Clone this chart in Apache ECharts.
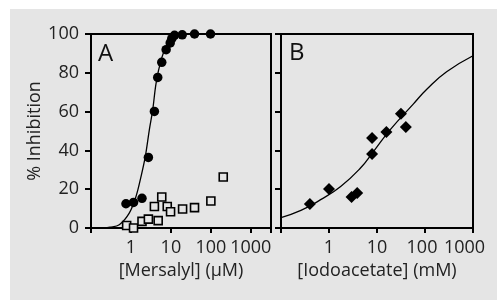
<!DOCTYPE html>
<html>
<head>
<meta charset="utf-8">
<script src="https://cdn.jsdelivr.net/npm/echarts@6/dist/echarts.min.js"></script>
<style>
  html, body { margin: 0; padding: 0; background: #fff; }
  #bg { position: absolute; left: 10px; top: 9px; width: 487px; height: 291px; background: #e5e5e5; }
  #main { position: absolute; left: 0; top: 0; width: 497px; height: 300px; }
</style>
</head>
<body>
<div id="bg"></div>
<div id="main"></div>
<script>
// panel A: mersalyl (uM)
const mersalylFilled = [
  [0.75, 12.5], [1.16, 13.2], [1.89, 15.3], [2.73, 36.4], [3.86, 60.1],
  [4.68, 77.6], [5.9, 85.4], [7.6, 91.9], [9.6, 95.4], [10.5, 97.6],
  [12.3, 99.3], [19.2, 99.6], [39, 100], [98, 100]
];
const mersalylOpen = [
  [0.78, 1.3], [1.16, 0], [1.89, 3.4], [2.73, 4.6], [4.8, 3.8],
  [3.86, 11.1], [5.9, 16], [8.1, 11.1], [9.8, 8.4], [19.6, 9.8],
  [39, 10.5], [100, 13.9], [204, 26.3]
];
const mersalylFit = [
  [0.2, 0], [0.3, 0.4], [0.51, 1.7], [0.906, 7.7], [1.34, 16.3], [1.79, 26.6],
  [2.29, 36.9], [2.89, 50.7], [3.51, 61], [4.26, 74.7], [5.7, 86.8],
  [7.6, 93.6], [11.2, 99.6], [20, 100], [3200, 100]
];

// panel B: iodoacetate (mM)
const iodoPoints = [
  [0.40, 12.4], [1.0, 20.1], [2.95, 16], [3.87, 18], [7.9, 38.1],
  [7.9, 46.4], [15.7, 49.5], [31.5, 58.9], [39.9, 52]
];
const iodoFit = [
  [0.1, 5.4], [0.26, 9.1], [0.67, 14.6], [1.75, 21.4], [4.53, 30.9],
  [8.5, 39.5], [18.9, 50.7], [57.5, 64], [109, 71.5], [282, 80.5], [1000, 88.8]
];

const yTicks = [0, 20, 40, 60, 80, 100];
const xTickLabels = ['1', '10', '100', '1000']; // decades 10^0 .. 10^3

const font = '"Open Sans", "DejaVu Sans", sans-serif';

function decadeLabel(v) {
  const k = Math.log10(v);
  const r = Math.round(k);
  if (Math.abs(k - r) > 1e-6 || r < 0 || r >= xTickLabels.length) return '';
  return xTickLabels[r];
}

function xAxis(gridIndex, name, max, shiftB) {
  return {
    type: 'log', logBase: 10, gridIndex: gridIndex,
    min: 0.1, max: max,
    name: name, nameLocation: 'middle', nameGap: 34,
    nameTextStyle: { fontFamily: font, fontSize: 18, color: '#222' },
    axisLine: { lineStyle: { color: '#000', width: 2 } },
    axisTick: { length: 5, lineStyle: { color: '#000', width: 2 } },
    minorTick: { show: false },
    splitLine: { show: false },
    axisLabel: {
      margin: 11, fontFamily: font, fontSize: 18, color: '#222',
      formatter: function (v) {
        const t = decadeLabel(v);
        if (!t) return '';
        if (shiftB && t === '1000') return '{r|' + t + '}';
        if (shiftB && t === '100') return '{s|' + t + '}';
        return t;
      },
      rich: {
        r: { fontFamily: font, fontSize: 18, color: '#222', padding: [0, 17, 0, 0] },
        s: { fontFamily: font, fontSize: 18, color: '#222', padding: [0, 6, 0, 0] }
      }
    }
  };
}

function yAxis(gridIndex, withLabels) {
  return {
    type: 'value', gridIndex: gridIndex, min: yTicks[0], max: yTicks[yTicks.length - 1], interval: 20,
    name: withLabels ? '% Inhibition' : '', nameLocation: 'middle', nameGap: 47,
    nameTextStyle: { fontFamily: font, fontSize: 18, color: '#222' },
    axisLine: { lineStyle: { color: '#000', width: 2 } },
    axisTick: { length: 6, lineStyle: { color: '#000', width: 2 } },
    splitLine: { show: false },
    axisLabel: { show: withLabels, margin: 12, fontFamily: font, fontSize: 18, color: '#222' }
  };
}

const chart = echarts.init(document.getElementById('main'), null, { renderer: 'canvas' });
chart.setOption({
  animation: false,
  title: [
    { text: 'A', left: 98, top: 42, padding: 0, textStyle: { fontFamily: font, fontSize: 24, fontWeight: 'normal', color: '#111' } },
    { text: 'B', left: 289, top: 41, padding: 0, textStyle: { fontFamily: font, fontSize: 24, fontWeight: 'normal', color: '#111' } }
  ],
  grid: [
    { left: 91, top: 34, width: 180, height: 194, show: true, borderColor: '#000', borderWidth: 2, backgroundColor: 'transparent' },
    { left: 281, top: 34, width: 192, height: 194, show: true, borderColor: '#000', borderWidth: 2, backgroundColor: 'transparent' }
  ],
  xAxis: [
    xAxis(0, '[Mersalyl] (µM)', 3200, false),
    xAxis(1, '[Iodoacetate] (mM)', 1000, true)
  ],
  yAxis: [yAxis(0, true), yAxis(1, false)],
  series: [
    {
      type: 'line', xAxisIndex: 0, yAxisIndex: 0, data: mersalylFit,
      showSymbol: false, smooth: 0.35,
      lineStyle: { color: '#000', width: 1.3 }, z: 1
    },
    {
      type: 'scatter', xAxisIndex: 0, yAxisIndex: 0, data: mersalylOpen,
      symbol: 'rect', symbolSize: 8,
      itemStyle: { color: '#e5e5e5', borderColor: '#000', borderWidth: 1.6, opacity: 1 }, z: 2
    },
    {
      type: 'scatter', xAxisIndex: 0, yAxisIndex: 0, data: mersalylFilled,
      symbol: 'circle', symbolSize: 9.5,
      itemStyle: { color: '#000', opacity: 1 }, z: 3
    },
    {
      type: 'line', xAxisIndex: 1, yAxisIndex: 1, data: iodoFit,
      showSymbol: false, smooth: 0.5,
      lineStyle: { color: '#000', width: 1.3 }, z: 1
    },
    {
      type: 'scatter', xAxisIndex: 1, yAxisIndex: 1, data: iodoPoints,
      symbol: 'diamond', symbolSize: [12, 12],
      itemStyle: { color: '#000', opacity: 1 }, z: 3
    }
  ]
});
</script>
</body>
</html>
